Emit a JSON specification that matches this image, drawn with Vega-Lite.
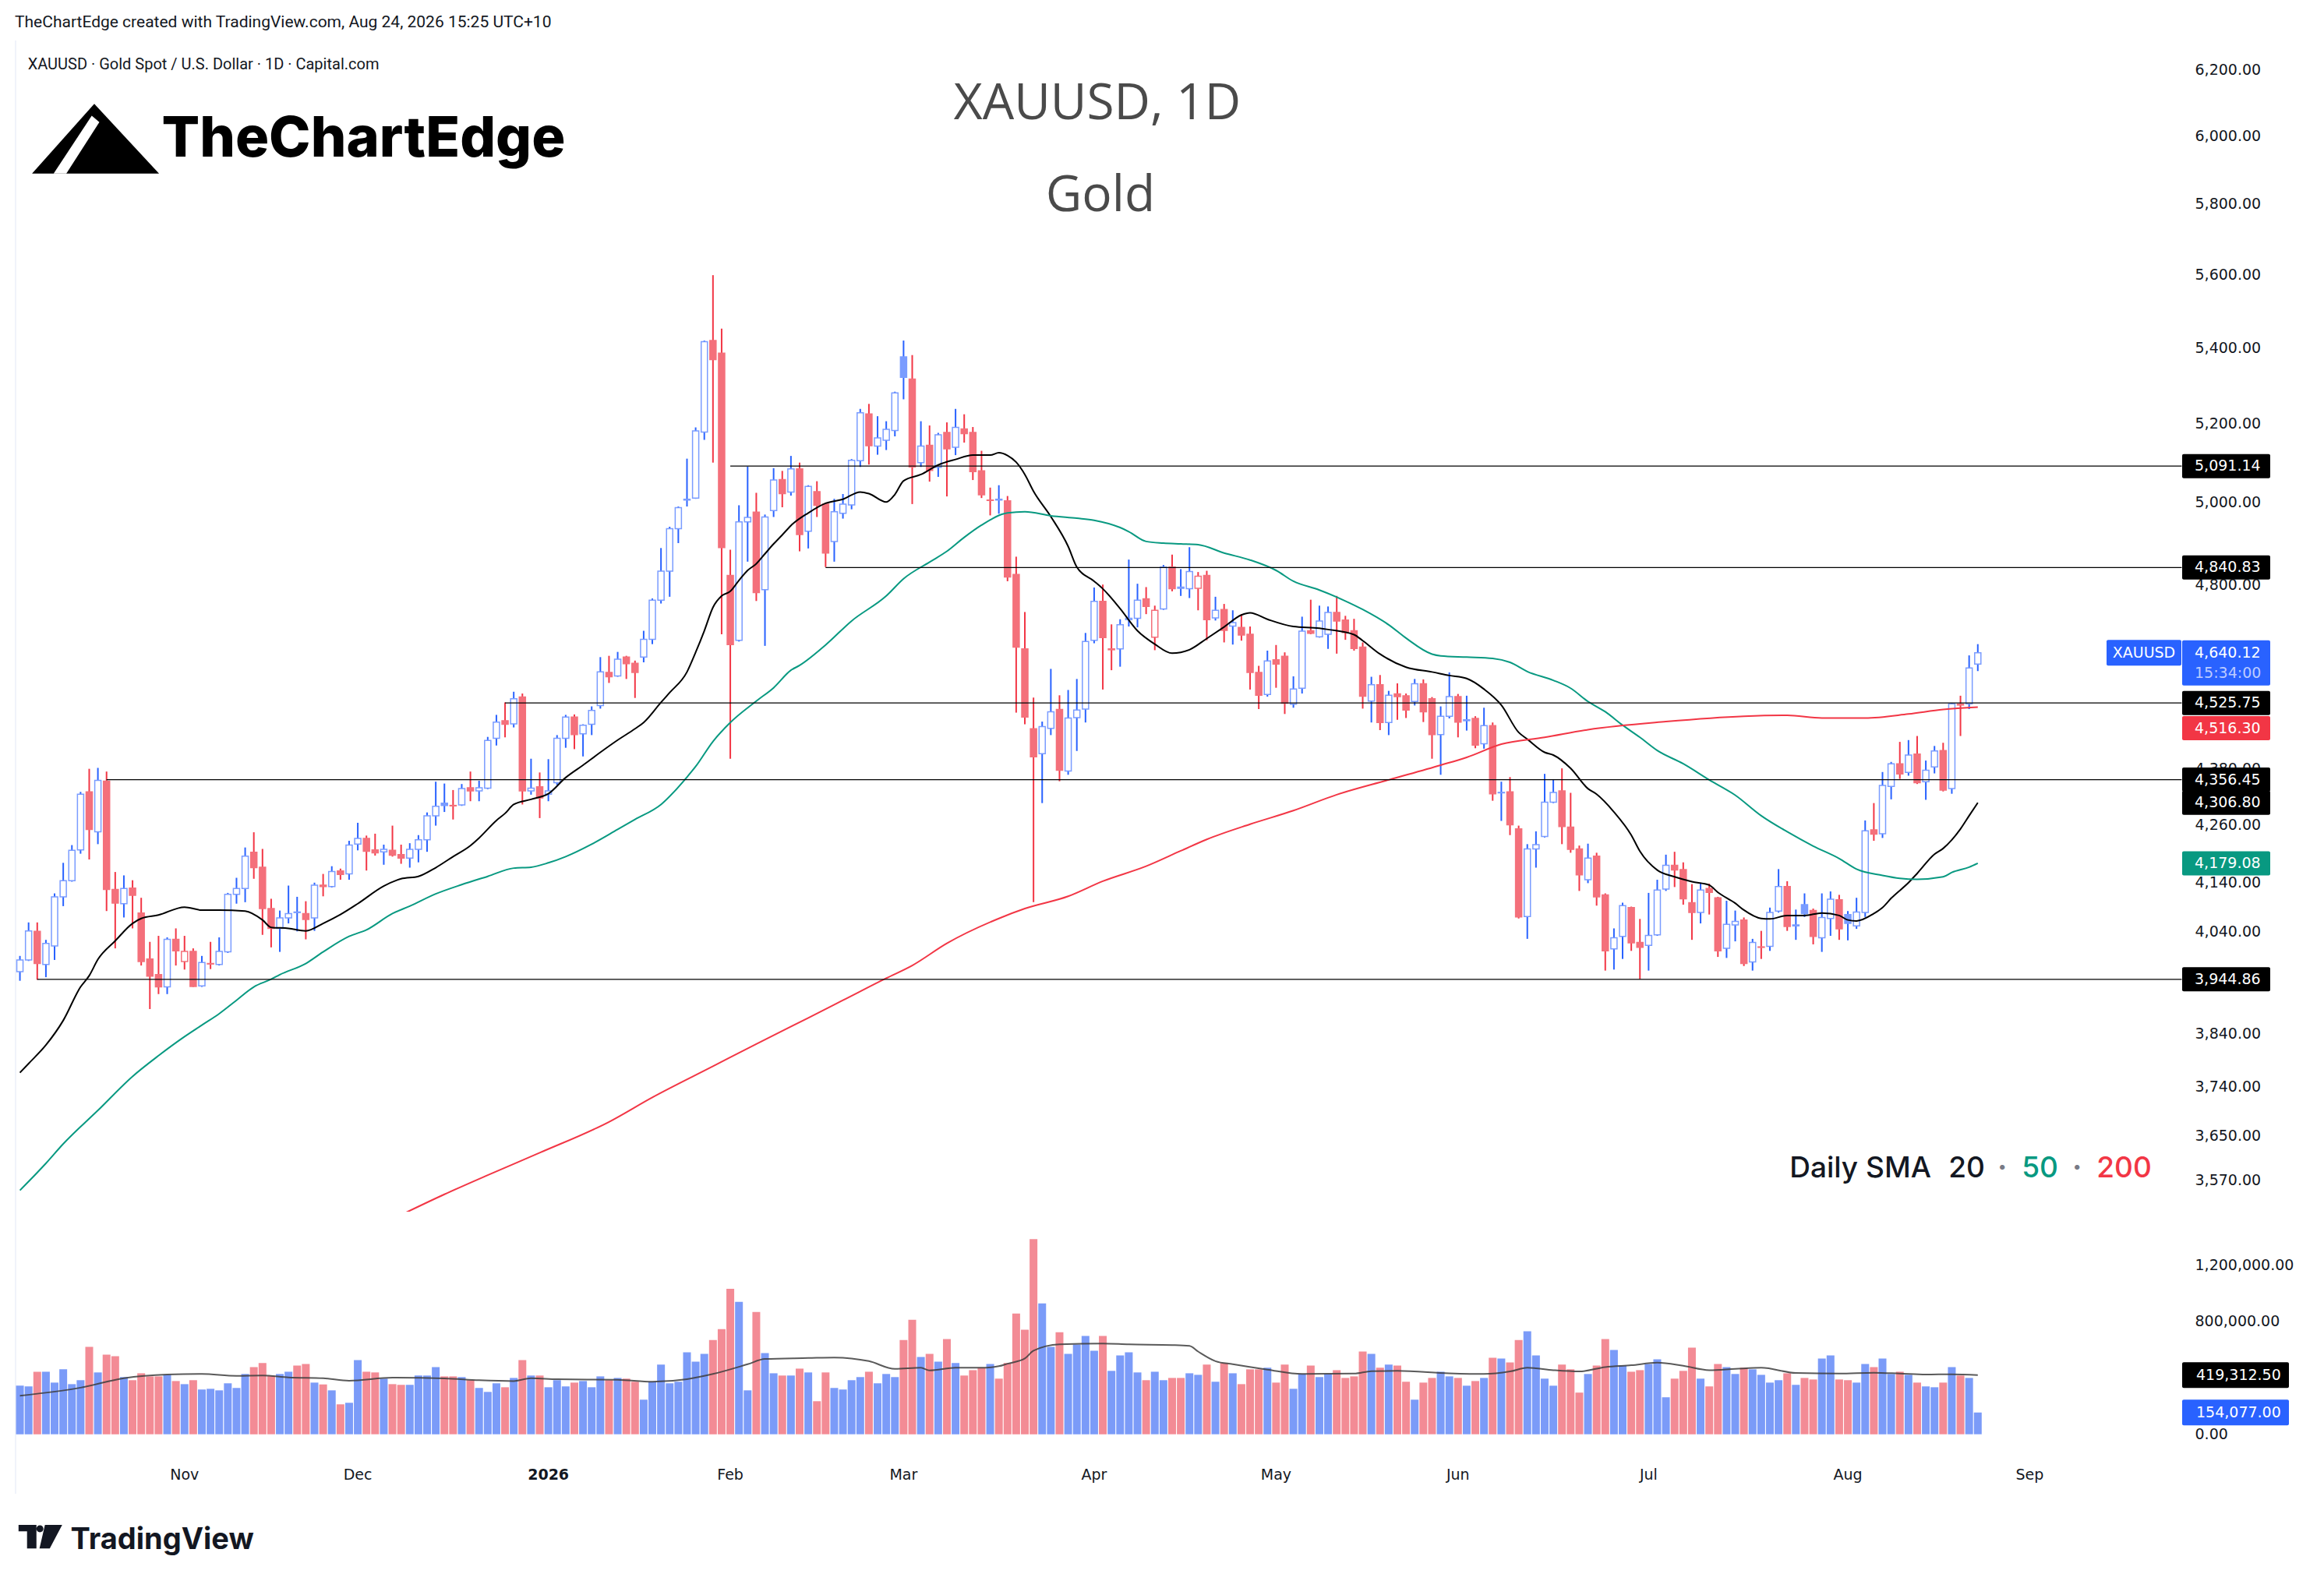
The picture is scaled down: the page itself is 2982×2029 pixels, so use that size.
{
  "$schema": "https://vega.github.io/schema/vega-lite/v6.json",
  "background": "#ffffff",
  "padding": {"left": 19, "top": 18, "right": 10, "bottom": 5},
  "bounds": "flush",
  "spacing": 0,
  "title": {
    "text": "TheChartEdge created with TradingView.com, Aug 24, 2026 15:25 UTC+10",
    "anchor": "start",
    "font": "Roboto",
    "fontSize": 21,
    "fontWeight": "normal",
    "color": "#131722",
    "offset": 12
  },
  "datasets": {
    "bars": [
      {"d":"2025-10-07","o":3960,"h":3991,"l":3942,"c":3983,"v":344000},
      {"d":"2025-10-08","o":3983,"h":4058,"l":3981,"c":4041,"v":339000},
      {"d":"2025-10-09","o":4040,"h":4058,"l":3944,"c":3976,"v":443000},
      {"d":"2025-10-10","o":3974,"h":4023,"l":3949,"c":4016,"v":443000},
      {"d":"2025-10-13","o":4011,"h":4117,"l":3983,"c":4110,"v":366000},
      {"d":"2025-10-14","o":4110,"h":4180,"l":4091,"c":4143,"v":460000},
      {"d":"2025-10-15","o":4143,"h":4217,"l":4141,"c":4206,"v":355000},
      {"d":"2025-10-16","o":4207,"h":4330,"l":4199,"c":4325,"v":383000},
      {"d":"2025-10-17","o":4330,"h":4380,"l":4187,"c":4250,"v":619000},
      {"d":"2025-10-20","o":4245,"h":4382,"l":4219,"c":4355,"v":438000},
      {"d":"2025-10-21","o":4353,"h":4374,"l":4081,"c":4125,"v":564000},
      {"d":"2025-10-22","o":4125,"h":4161,"l":4006,"c":4097,"v":553000},
      {"d":"2025-10-23","o":4096,"h":4154,"l":4068,"c":4127,"v":405000},
      {"d":"2025-10-24","o":4128,"h":4144,"l":4046,"c":4113,"v":383000},
      {"d":"2025-10-27","o":4077,"h":4108,"l":3972,"c":3980,"v":432000},
      {"d":"2025-10-28","o":3985,"h":4019,"l":3887,"c":3951,"v":410000},
      {"d":"2025-10-29","o":3954,"h":4031,"l":3916,"c":3930,"v":410000},
      {"d":"2025-10-30","o":3930,"h":4028,"l":3916,"c":4024,"v":421000},
      {"d":"2025-10-31","o":4024,"h":4046,"l":3972,"c":4001,"v":377000},
      {"d":"2025-11-03","o":3980,"h":4031,"l":3964,"c":4000,"v":355000},
      {"d":"2025-11-04","o":4000,"h":4006,"l":3930,"c":3931,"v":383000},
      {"d":"2025-11-05","o":3932,"h":3991,"l":3930,"c":3978,"v":317000},
      {"d":"2025-11-06","o":3975,"h":4019,"l":3965,"c":3976,"v":322000},
      {"d":"2025-11-07","o":3974,"h":4028,"l":3972,"c":4000,"v":311000},
      {"d":"2025-11-10","o":3999,"h":4118,"l":3997,"c":4115,"v":361000},
      {"d":"2025-11-11","o":4115,"h":4149,"l":4096,"c":4127,"v":328000},
      {"d":"2025-11-12","o":4127,"h":4212,"l":4099,"c":4194,"v":427000},
      {"d":"2025-11-13","o":4202,"h":4244,"l":4147,"c":4170,"v":476000},
      {"d":"2025-11-14","o":4171,"h":4209,"l":4033,"c":4086,"v":504000},
      {"d":"2025-11-17","o":4086,"h":4106,"l":4008,"c":4046,"v":414000},
      {"d":"2025-11-18","o":4046,"h":4082,"l":3999,"c":4067,"v":427000},
      {"d":"2025-11-19","o":4067,"h":4133,"l":4056,"c":4076,"v":443000},
      {"d":"2025-11-20","o":4079,"h":4110,"l":4040,"c":4078,"v":487000},
      {"d":"2025-11-21","o":4076,"h":4101,"l":4024,"c":4064,"v":498000},
      {"d":"2025-11-24","o":4067,"h":4139,"l":4041,"c":4134,"v":366000},
      {"d":"2025-11-25","o":4134,"h":4157,"l":4111,"c":4131,"v":353000},
      {"d":"2025-11-26","o":4131,"h":4173,"l":4129,"c":4162,"v":311000},
      {"d":"2025-11-27","o":4163,"h":4168,"l":4145,"c":4156,"v":212000},
      {"d":"2025-11-28","o":4157,"h":4226,"l":4145,"c":4217,"v":223000},
      {"d":"2025-12-01","o":4219,"h":4264,"l":4206,"c":4231,"v":526000},
      {"d":"2025-12-02","o":4231,"h":4237,"l":4164,"c":4204,"v":443000},
      {"d":"2025-12-03","o":4207,"h":4241,"l":4195,"c":4201,"v":438000},
      {"d":"2025-12-04","o":4203,"h":4218,"l":4176,"c":4208,"v":394000},
      {"d":"2025-12-05","o":4206,"h":4258,"l":4193,"c":4196,"v":355000},
      {"d":"2025-12-08","o":4197,"h":4218,"l":4178,"c":4190,"v":350000},
      {"d":"2025-12-09","o":4190,"h":4221,"l":4170,"c":4208,"v":350000},
      {"d":"2025-12-10","o":4208,"h":4238,"l":4181,"c":4228,"v":416000},
      {"d":"2025-12-11","o":4228,"h":4286,"l":4203,"c":4279,"v":416000},
      {"d":"2025-12-12","o":4279,"h":4352,"l":4258,"c":4299,"v":476000},
      {"d":"2025-12-15","o":4306,"h":4348,"l":4287,"c":4301,"v":410000},
      {"d":"2025-12-16","o":4301,"h":4334,"l":4271,"c":4300,"v":410000},
      {"d":"2025-12-17","o":4302,"h":4347,"l":4300,"c":4337,"v":405000},
      {"d":"2025-12-18","o":4339,"h":4374,"l":4310,"c":4332,"v":383000},
      {"d":"2025-12-19","o":4332,"h":4354,"l":4310,"c":4339,"v":328000},
      {"d":"2025-12-22","o":4338,"h":4450,"l":4336,"c":4442,"v":300000},
      {"d":"2025-12-23","o":4447,"h":4499,"l":4431,"c":4483,"v":361000},
      {"d":"2025-12-24","o":4486,"h":4527,"l":4449,"c":4478,"v":333000},
      {"d":"2025-12-26","o":4479,"h":4551,"l":4471,"c":4535,"v":399000},
      {"d":"2025-12-29","o":4539,"h":4547,"l":4303,"c":4332,"v":526000},
      {"d":"2025-12-30","o":4332,"h":4402,"l":4324,"c":4338,"v":416000},
      {"d":"2025-12-31","o":4341,"h":4372,"l":4274,"c":4317,"v":416000},
      {"d":"2026-01-02","o":4325,"h":4401,"l":4310,"c":4332,"v":333000},
      {"d":"2026-01-05","o":4350,"h":4454,"l":4345,"c":4447,"v":383000},
      {"d":"2026-01-06","o":4447,"h":4499,"l":4426,"c":4494,"v":339000},
      {"d":"2026-01-07","o":4494,"h":4500,"l":4423,"c":4455,"v":366000},
      {"d":"2026-01-08","o":4457,"h":4478,"l":4407,"c":4476,"v":377000},
      {"d":"2026-01-09","o":4478,"h":4518,"l":4454,"c":4509,"v":333000},
      {"d":"2026-01-12","o":4520,"h":4630,"l":4513,"c":4596,"v":410000},
      {"d":"2026-01-13","o":4595,"h":4633,"l":4571,"c":4585,"v":383000},
      {"d":"2026-01-14","o":4587,"h":4642,"l":4585,"c":4625,"v":399000},
      {"d":"2026-01-15","o":4630,"h":4633,"l":4580,"c":4615,"v":394000},
      {"d":"2026-01-16","o":4616,"h":4622,"l":4537,"c":4595,"v":372000},
      {"d":"2026-01-19","o":4630,"h":4691,"l":4618,"c":4671,"v":245000},
      {"d":"2026-01-20","o":4671,"h":4767,"l":4660,"c":4763,"v":372000},
      {"d":"2026-01-21","o":4763,"h":4888,"l":4755,"c":4832,"v":493000},
      {"d":"2026-01-22","o":4832,"h":4940,"l":4771,"c":4935,"v":361000},
      {"d":"2026-01-23","o":4935,"h":4990,"l":4900,"c":4987,"v":372000},
      {"d":"2026-01-26","o":5006,"h":5110,"l":4990,"c":5008,"v":581000},
      {"d":"2026-01-27","o":5011,"h":5190,"l":5009,"c":5181,"v":515000},
      {"d":"2026-01-28","o":5178,"h":5419,"l":5158,"c":5416,"v":570000},
      {"d":"2026-01-29","o":5419,"h":5598,"l":5100,"c":5368,"v":668000},
      {"d":"2026-01-30","o":5385,"h":5451,"l":4683,"c":4889,"v":745000},
      {"d":"2026-02-02","o":4822,"h":4884,"l":4402,"c":4659,"v":1031000},
      {"d":"2026-02-03","o":4669,"h":4993,"l":4666,"c":4952,"v":938000},
      {"d":"2026-02-04","o":4952,"h":5090,"l":4855,"c":4963,"v":311000},
      {"d":"2026-02-05","o":4976,"h":5024,"l":4761,"c":4781,"v":866000},
      {"d":"2026-02-06","o":4788,"h":4970,"l":4656,"c":4964,"v":575000},
      {"d":"2026-02-09","o":4980,"h":5086,"l":4964,"c":5056,"v":432000},
      {"d":"2026-02-10","o":5057,"h":5079,"l":4988,"c":5022,"v":416000},
      {"d":"2026-02-11","o":5026,"h":5117,"l":5017,"c":5084,"v":416000},
      {"d":"2026-02-12","o":5084,"h":5100,"l":4880,"c":4921,"v":465000},
      {"d":"2026-02-13","o":4929,"h":5043,"l":4887,"c":5040,"v":438000},
      {"d":"2026-02-16","o":5027,"h":5053,"l":4964,"c":4993,"v":234000},
      {"d":"2026-02-17","o":4996,"h":4999,"l":4842,"c":4876,"v":438000},
      {"d":"2026-02-18","o":4904,"h":5009,"l":4855,"c":4977,"v":328000},
      {"d":"2026-02-19","o":4973,"h":5021,"l":4960,"c":4996,"v":317000},
      {"d":"2026-02-20","o":4994,"h":5109,"l":4983,"c":5106,"v":383000},
      {"d":"2026-02-23","o":5105,"h":5238,"l":5089,"c":5228,"v":405000},
      {"d":"2026-02-24","o":5225,"h":5251,"l":5095,"c":5143,"v":443000},
      {"d":"2026-02-25","o":5142,"h":5219,"l":5120,"c":5163,"v":361000},
      {"d":"2026-02-26","o":5157,"h":5206,"l":5132,"c":5185,"v":427000},
      {"d":"2026-02-27","o":5182,"h":5283,"l":5167,"c":5280,"v":405000},
      {"d":"2026-03-02","o":5375,"h":5419,"l":5263,"c":5321,"v":668000},
      {"d":"2026-03-03","o":5316,"h":5380,"l":4996,"c":5089,"v":811000},
      {"d":"2026-03-04","o":5100,"h":5206,"l":5089,"c":5142,"v":548000},
      {"d":"2026-03-05","o":5144,"h":5195,"l":5052,"c":5080,"v":570000},
      {"d":"2026-03-06","o":5088,"h":5176,"l":5064,"c":5171,"v":515000},
      {"d":"2026-03-09","o":5177,"h":5203,"l":5015,"c":5135,"v":674000},
      {"d":"2026-03-10","o":5139,"h":5238,"l":5119,"c":5190,"v":504000},
      {"d":"2026-03-11","o":5186,"h":5224,"l":5151,"c":5174,"v":416000},
      {"d":"2026-03-12","o":5177,"h":5191,"l":5056,"c":5077,"v":454000},
      {"d":"2026-03-13","o":5079,"h":5130,"l":5011,"c":5019,"v":471000},
      {"d":"2026-03-16","o":5005,"h":5037,"l":4968,"c":5006,"v":498000},
      {"d":"2026-03-17","o":5008,"h":5043,"l":4972,"c":5006,"v":394000},
      {"d":"2026-03-18","o":5004,"h":5016,"l":4808,"c":4818,"v":504000},
      {"d":"2026-03-19","o":4824,"h":4867,"l":4504,"c":4653,"v":855000},
      {"d":"2026-03-20","o":4649,"h":4735,"l":4478,"c":4494,"v":740000},
      {"d":"2026-03-23","o":4468,"h":4538,"l":4099,"c":4406,"v":1383000},
      {"d":"2026-03-24","o":4413,"h":4484,"l":4306,"c":4473,"v":927000},
      {"d":"2026-03-25","o":4469,"h":4603,"l":4454,"c":4506,"v":619000},
      {"d":"2026-03-26","o":4511,"h":4543,"l":4353,"c":4377,"v":723000},
      {"d":"2026-03-27","o":4375,"h":4555,"l":4367,"c":4492,"v":570000},
      {"d":"2026-03-30","o":4493,"h":4580,"l":4419,"c":4510,"v":636000},
      {"d":"2026-03-31","o":4512,"h":4686,"l":4482,"c":4666,"v":696000},
      {"d":"2026-04-01","o":4669,"h":4793,"l":4662,"c":4760,"v":592000},
      {"d":"2026-04-02","o":4760,"h":4800,"l":4556,"c":4675,"v":696000},
      {"d":"2026-04-06","o":4647,"h":4706,"l":4600,"c":4649,"v":449000},
      {"d":"2026-04-07","o":4649,"h":4718,"l":4608,"c":4705,"v":559000},
      {"d":"2026-04-08","o":4717,"h":4860,"l":4701,"c":4720,"v":581000},
      {"d":"2026-04-09","o":4720,"h":4802,"l":4699,"c":4763,"v":438000},
      {"d":"2026-04-10","o":4766,"h":4794,"l":4730,"c":4748,"v":383000},
      {"d":"2026-04-13","o":4676,"h":4750,"l":4646,"c":4739,"v":443000},
      {"d":"2026-04-14","o":4742,"h":4847,"l":4740,"c":4842,"v":383000},
      {"d":"2026-04-15","o":4842,"h":4872,"l":4784,"c":4790,"v":399000},
      {"d":"2026-04-16","o":4794,"h":4837,"l":4773,"c":4791,"v":399000},
      {"d":"2026-04-17","o":4790,"h":4890,"l":4768,"c":4831,"v":432000},
      {"d":"2026-04-20","o":4791,"h":4830,"l":4739,"c":4820,"v":421000},
      {"d":"2026-04-21","o":4822,"h":4833,"l":4669,"c":4717,"v":493000},
      {"d":"2026-04-22","o":4721,"h":4771,"l":4715,"c":4739,"v":372000},
      {"d":"2026-04-23","o":4741,"h":4754,"l":4664,"c":4692,"v":504000},
      {"d":"2026-04-24","o":4702,"h":4739,"l":4659,"c":4710,"v":432000},
      {"d":"2026-04-27","o":4699,"h":4730,"l":4668,"c":4681,"v":355000},
      {"d":"2026-04-28","o":4683,"h":4701,"l":4556,"c":4595,"v":460000},
      {"d":"2026-04-29","o":4595,"h":4610,"l":4512,"c":4543,"v":460000},
      {"d":"2026-04-30","o":4545,"h":4645,"l":4540,"c":4621,"v":471000},
      {"d":"2026-05-01","o":4624,"h":4658,"l":4560,"c":4614,"v":366000},
      {"d":"2026-05-04","o":4632,"h":4641,"l":4501,"c":4525,"v":493000},
      {"d":"2026-05-05","o":4523,"h":4586,"l":4515,"c":4557,"v":322000},
      {"d":"2026-05-06","o":4559,"h":4724,"l":4547,"c":4690,"v":427000},
      {"d":"2026-05-07","o":4691,"h":4764,"l":4683,"c":4685,"v":487000},
      {"d":"2026-05-08","o":4677,"h":4750,"l":4675,"c":4714,"v":405000},
      {"d":"2026-05-11","o":4683,"h":4748,"l":4649,"c":4734,"v":427000},
      {"d":"2026-05-12","o":4734,"h":4773,"l":4638,"c":4714,"v":454000},
      {"d":"2026-05-13","o":4716,"h":4726,"l":4670,"c":4687,"v":399000},
      {"d":"2026-05-14","o":4691,"h":4719,"l":4645,"c":4650,"v":410000},
      {"d":"2026-05-15","o":4653,"h":4664,"l":4513,"c":4541,"v":586000},
      {"d":"2026-05-18","o":4530,"h":4585,"l":4482,"c":4567,"v":570000},
      {"d":"2026-05-19","o":4567,"h":4589,"l":4465,"c":4482,"v":471000},
      {"d":"2026-05-20","o":4482,"h":4553,"l":4454,"c":4543,"v":493000},
      {"d":"2026-05-21","o":4546,"h":4570,"l":4488,"c":4540,"v":487000},
      {"d":"2026-05-22","o":4542,"h":4547,"l":4492,"c":4510,"v":372000},
      {"d":"2026-05-25","o":4529,"h":4580,"l":4520,"c":4569,"v":245000},
      {"d":"2026-05-26","o":4569,"h":4579,"l":4483,"c":4506,"v":366000},
      {"d":"2026-05-27","o":4535,"h":4539,"l":4402,"c":4455,"v":399000},
      {"d":"2026-05-28","o":4455,"h":4518,"l":4367,"c":4496,"v":443000},
      {"d":"2026-05-29","o":4496,"h":4595,"l":4491,"c":4540,"v":410000},
      {"d":"2026-06-01","o":4540,"h":4546,"l":4449,"c":4483,"v":399000},
      {"d":"2026-06-02","o":4486,"h":4542,"l":4464,"c":4488,"v":344000},
      {"d":"2026-06-03","o":4491,"h":4496,"l":4425,"c":4432,"v":377000},
      {"d":"2026-06-04","o":4435,"h":4515,"l":4424,"c":4475,"v":399000},
      {"d":"2026-06-05","o":4475,"h":4482,"l":4311,"c":4326,"v":542000},
      {"d":"2026-06-08","o":4328,"h":4352,"l":4268,"c":4329,"v":537000},
      {"d":"2026-06-09","o":4330,"h":4362,"l":4238,"c":4260,"v":509000},
      {"d":"2026-06-10","o":4251,"h":4258,"l":4066,"c":4069,"v":668000},
      {"d":"2026-06-11","o":4070,"h":4219,"l":4025,"c":4209,"v":729000},
      {"d":"2026-06-12","o":4209,"h":4246,"l":4170,"c":4218,"v":559000},
      {"d":"2026-06-15","o":4235,"h":4369,"l":4233,"c":4308,"v":394000},
      {"d":"2026-06-16","o":4308,"h":4356,"l":4306,"c":4329,"v":344000},
      {"d":"2026-06-17","o":4332,"h":4381,"l":4219,"c":4256,"v":493000},
      {"d":"2026-06-18","o":4255,"h":4328,"l":4201,"c":4208,"v":460000},
      {"d":"2026-06-19","o":4209,"h":4216,"l":4122,"c":4155,"v":295000},
      {"d":"2026-06-22","o":4145,"h":4220,"l":4138,"c":4190,"v":427000},
      {"d":"2026-06-23","o":4194,"h":4201,"l":4092,"c":4110,"v":487000},
      {"d":"2026-06-24","o":4114,"h":4117,"l":3962,"c":4001,"v":674000},
      {"d":"2026-06-25","o":4005,"h":4046,"l":3964,"c":4027,"v":597000},
      {"d":"2026-06-26","o":4030,"h":4098,"l":3985,"c":4092,"v":487000},
      {"d":"2026-06-29","o":4088,"h":4090,"l":4001,"c":4017,"v":443000},
      {"d":"2026-06-30","o":4018,"h":4065,"l":3945,"c":4008,"v":454000},
      {"d":"2026-07-01","o":4012,"h":4118,"l":3962,"c":4032,"v":498000},
      {"d":"2026-07-02","o":4033,"h":4145,"l":4031,"c":4124,"v":531000},
      {"d":"2026-07-03","o":4126,"h":4197,"l":4122,"c":4175,"v":262000},
      {"d":"2026-07-06","o":4175,"h":4203,"l":4130,"c":4165,"v":394000},
      {"d":"2026-07-07","o":4166,"h":4181,"l":4094,"c":4106,"v":449000},
      {"d":"2026-07-08","o":4098,"h":4136,"l":4023,"c":4078,"v":614000},
      {"d":"2026-07-09","o":4078,"h":4139,"l":4056,"c":4124,"v":394000},
      {"d":"2026-07-10","o":4127,"h":4137,"l":4074,"c":4119,"v":339000},
      {"d":"2026-07-13","o":4108,"h":4110,"l":3989,"c":4001,"v":498000},
      {"d":"2026-07-14","o":4006,"h":4102,"l":3987,"c":4054,"v":476000},
      {"d":"2026-07-15","o":4053,"h":4082,"l":4020,"c":4060,"v":427000},
      {"d":"2026-07-16","o":4063,"h":4068,"l":3971,"c":3976,"v":471000},
      {"d":"2026-07-17","o":3979,"h":4025,"l":3962,"c":4018,"v":460000},
      {"d":"2026-07-20","o":4008,"h":4041,"l":3985,"c":4009,"v":421000},
      {"d":"2026-07-21","o":4010,"h":4088,"l":4001,"c":4078,"v":366000},
      {"d":"2026-07-22","o":4081,"h":4167,"l":4078,"c":4131,"v":383000},
      {"d":"2026-07-23","o":4131,"h":4142,"l":4041,"c":4050,"v":432000},
      {"d":"2026-07-24","o":4051,"h":4084,"l":4023,"c":4053,"v":350000},
      {"d":"2026-07-27","o":4094,"h":4117,"l":4069,"c":4076,"v":399000},
      {"d":"2026-07-28","o":4082,"h":4086,"l":4014,"c":4030,"v":388000},
      {"d":"2026-07-29","o":4027,"h":4117,"l":3999,"c":4068,"v":537000},
      {"d":"2026-07-30","o":4066,"h":4121,"l":4031,"c":4105,"v":559000},
      {"d":"2026-07-31","o":4104,"h":4114,"l":4023,"c":4045,"v":388000},
      {"d":"2026-08-03","o":4074,"h":4081,"l":4022,"c":4056,"v":383000},
      {"d":"2026-08-04","o":4051,"h":4108,"l":4045,"c":4079,"v":366000},
      {"d":"2026-08-05","o":4078,"h":4269,"l":4069,"c":4247,"v":498000},
      {"d":"2026-08-06","o":4249,"h":4306,"l":4226,"c":4240,"v":476000},
      {"d":"2026-08-07","o":4241,"h":4373,"l":4232,"c":4344,"v":537000},
      {"d":"2026-08-10","o":4342,"h":4395,"l":4314,"c":4391,"v":427000},
      {"d":"2026-08-11","o":4391,"h":4439,"l":4358,"c":4369,"v":443000},
      {"d":"2026-08-12","o":4372,"h":4443,"l":4365,"c":4410,"v":421000},
      {"d":"2026-08-13","o":4412,"h":4452,"l":4347,"c":4350,"v":366000},
      {"d":"2026-08-14","o":4352,"h":4398,"l":4313,"c":4377,"v":339000},
      {"d":"2026-08-17","o":4384,"h":4430,"l":4370,"c":4419,"v":333000},
      {"d":"2026-08-18","o":4420,"h":4437,"l":4331,"c":4334,"v":366000},
      {"d":"2026-08-19","o":4337,"h":4526,"l":4326,"c":4524,"v":476000},
      {"d":"2026-08-20","o":4523,"h":4542,"l":4452,"c":4521,"v":416000},
      {"d":"2026-08-21","o":4524,"h":4634,"l":4512,"c":4605,"v":399000},
      {"d":"2026-08-24","o":4614,"h":4660,"l":4598,"c":4640.12,"v":154077}
    ],
    "sma": [
      {"d":"2025-10-07","n":"20","val":3766},{"d":"2025-10-08","n":"20","val":3783},{"d":"2025-10-10","n":"20","val":3818},{"d":"2025-10-14","n":"20","val":3865},
      {"d":"2025-10-16","n":"20","val":3930},{"d":"2025-10-17","n":"20","val":3952},{"d":"2025-10-20","n":"20","val":3984},{"d":"2025-10-22","n":"20","val":4021},
      {"d":"2025-10-24","n":"20","val":4056},{"d":"2025-10-27","n":"20","val":4066},{"d":"2025-10-29","n":"20","val":4073},{"d":"2025-11-03","n":"20","val":4089},
      {"d":"2025-11-05","n":"20","val":4083},{"d":"2025-11-07","n":"20","val":4083},{"d":"2025-11-12","n":"20","val":4081},{"d":"2025-11-14","n":"20","val":4063},
      {"d":"2025-11-17","n":"20","val":4048},{"d":"2025-11-19","n":"20","val":4046},{"d":"2025-11-21","n":"20","val":4041},{"d":"2025-11-25","n":"20","val":4056},
      {"d":"2025-11-27","n":"20","val":4074},{"d":"2025-12-01","n":"20","val":4096},{"d":"2025-12-04","n":"20","val":4132},{"d":"2025-12-08","n":"20","val":4147},
      {"d":"2025-12-10","n":"20","val":4152},{"d":"2025-12-12","n":"20","val":4170},{"d":"2025-12-16","n":"20","val":4193},{"d":"2025-12-18","n":"20","val":4216},
      {"d":"2025-12-19","n":"20","val":4232},{"d":"2025-12-23","n":"20","val":4269},{"d":"2025-12-24","n":"20","val":4284},{"d":"2025-12-26","n":"20","val":4303},
      {"d":"2025-12-30","n":"20","val":4314},{"d":"2026-01-02","n":"20","val":4326},{"d":"2026-01-06","n":"20","val":4361},{"d":"2026-01-08","n":"20","val":4388},
      {"d":"2026-01-12","n":"20","val":4416},{"d":"2026-01-14","n":"20","val":4443},{"d":"2026-01-16","n":"20","val":4468},{"d":"2026-01-19","n":"20","val":4482},
      {"d":"2026-01-21","n":"20","val":4527},{"d":"2026-01-22","n":"20","val":4549},{"d":"2026-01-26","n":"20","val":4596},{"d":"2026-01-27","n":"20","val":4641},
      {"d":"2026-01-28","n":"20","val":4691},{"d":"2026-01-29","n":"20","val":4746},{"d":"2026-01-30","n":"20","val":4773},{"d":"2026-02-02","n":"20","val":4784},
      {"d":"2026-02-03","n":"20","val":4810},{"d":"2026-02-04","n":"20","val":4834},{"d":"2026-02-05","n":"20","val":4850},{"d":"2026-02-06","n":"20","val":4874},
      {"d":"2026-02-09","n":"20","val":4898},{"d":"2026-02-10","n":"20","val":4920},{"d":"2026-02-11","n":"20","val":4943},{"d":"2026-02-13","n":"20","val":4974},
      {"d":"2026-02-17","n":"20","val":4998},{"d":"2026-02-19","n":"20","val":5008},{"d":"2026-02-23","n":"20","val":5026},{"d":"2026-02-24","n":"20","val":5022},
      {"d":"2026-02-26","n":"20","val":5001},{"d":"2026-02-27","n":"20","val":5020},{"d":"2026-03-02","n":"20","val":5054},{"d":"2026-03-04","n":"20","val":5070},
      {"d":"2026-03-06","n":"20","val":5094},{"d":"2026-03-10","n":"20","val":5108},{"d":"2026-03-12","n":"20","val":5119},{"d":"2026-03-16","n":"20","val":5119},
      {"d":"2026-03-17","n":"20","val":5125},{"d":"2026-03-18","n":"20","val":5118},{"d":"2026-03-19","n":"20","val":5101},{"d":"2026-03-20","n":"20","val":5070},
      {"d":"2026-03-23","n":"20","val":5028},{"d":"2026-03-25","n":"20","val":4965},{"d":"2026-03-27","n":"20","val":4892},{"d":"2026-03-30","n":"20","val":4842},
      {"d":"2026-04-01","n":"20","val":4808},{"d":"2026-04-02","n":"20","val":4790},{"d":"2026-04-07","n":"20","val":4743},{"d":"2026-04-09","n":"20","val":4691},
      {"d":"2026-04-13","n":"20","val":4660},{"d":"2026-04-15","n":"20","val":4639},{"d":"2026-04-16","n":"20","val":4641},{"d":"2026-04-17","n":"20","val":4647},
      {"d":"2026-04-21","n":"20","val":4673},{"d":"2026-04-23","n":"20","val":4700},{"d":"2026-04-27","n":"20","val":4728},{"d":"2026-04-28","n":"20","val":4733},
      {"d":"2026-04-30","n":"20","val":4718},{"d":"2026-05-05","n":"20","val":4701},{"d":"2026-05-08","n":"20","val":4697},{"d":"2026-05-11","n":"20","val":4694},
      {"d":"2026-05-14","n":"20","val":4682},{"d":"2026-05-15","n":"20","val":4668},{"d":"2026-05-19","n":"20","val":4637},{"d":"2026-05-22","n":"20","val":4607},
      {"d":"2026-05-27","n":"20","val":4596},{"d":"2026-05-29","n":"20","val":4588},{"d":"2026-06-02","n":"20","val":4581},{"d":"2026-06-04","n":"20","val":4557},
      {"d":"2026-06-08","n":"20","val":4521},{"d":"2026-06-10","n":"20","val":4460},{"d":"2026-06-11","n":"20","val":4445},{"d":"2026-06-15","n":"20","val":4416},
      {"d":"2026-06-16","n":"20","val":4410},{"d":"2026-06-18","n":"20","val":4381},{"d":"2026-06-22","n":"20","val":4337},{"d":"2026-06-23","n":"20","val":4325},
      {"d":"2026-06-25","n":"20","val":4287},{"d":"2026-06-29","n":"20","val":4238},{"d":"2026-06-30","n":"20","val":4204},{"d":"2026-07-02","n":"20","val":4165},
      {"d":"2026-07-06","n":"20","val":4151},{"d":"2026-07-08","n":"20","val":4141},{"d":"2026-07-10","n":"20","val":4134},{"d":"2026-07-13","n":"20","val":4119},
      {"d":"2026-07-15","n":"20","val":4097},{"d":"2026-07-16","n":"20","val":4083},{"d":"2026-07-20","n":"20","val":4066},{"d":"2026-07-21","n":"20","val":4065},
      {"d":"2026-07-23","n":"20","val":4072},{"d":"2026-07-27","n":"20","val":4072},{"d":"2026-07-29","n":"20","val":4077},{"d":"2026-07-31","n":"20","val":4072},
      {"d":"2026-08-03","n":"20","val":4063},{"d":"2026-08-04","n":"20","val":4061},{"d":"2026-08-06","n":"20","val":4076},{"d":"2026-08-07","n":"20","val":4088},
      {"d":"2026-08-10","n":"20","val":4107},{"d":"2026-08-12","n":"20","val":4139},{"d":"2026-08-13","n":"20","val":4158},{"d":"2026-08-17","n":"20","val":4198},
      {"d":"2026-08-18","n":"20","val":4210},{"d":"2026-08-19","n":"20","val":4228},{"d":"2026-08-20","n":"20","val":4251},{"d":"2026-08-21","n":"20","val":4279},
      {"d":"2026-08-24","n":"20","val":4306.8},
      {"d":"2025-10-07","n":"50","val":3552},{"d":"2025-10-10","n":"50","val":3600},{"d":"2025-10-14","n":"50","val":3635},{"d":"2025-10-20","n":"50","val":3696},
      {"d":"2025-10-24","n":"50","val":3759},{"d":"2025-10-29","n":"50","val":3798},{"d":"2025-11-03","n":"50","val":3834},{"d":"2025-11-05","n":"50","val":3856},
      {"d":"2025-11-07","n":"50","val":3878},{"d":"2025-11-11","n":"50","val":3904},{"d":"2025-11-13","n":"50","val":3930},{"d":"2025-11-17","n":"50","val":3945},
      {"d":"2025-11-18","n":"50","val":3954},{"d":"2025-11-21","n":"50","val":3976},{"d":"2025-11-25","n":"50","val":3999},{"d":"2025-11-28","n":"50","val":4030},
      {"d":"2025-12-02","n":"50","val":4043},{"d":"2025-12-05","n":"50","val":4076},{"d":"2025-12-09","n":"50","val":4091},{"d":"2025-12-12","n":"50","val":4116},
      {"d":"2025-12-17","n":"50","val":4135},{"d":"2025-12-22","n":"50","val":4152},{"d":"2025-12-26","n":"50","val":4169},{"d":"2025-12-30","n":"50","val":4171},
      {"d":"2026-01-02","n":"50","val":4180},{"d":"2026-01-06","n":"50","val":4193},{"d":"2026-01-09","n":"50","val":4219},{"d":"2026-01-14","n":"50","val":4250},
      {"d":"2026-01-16","n":"50","val":4271},{"d":"2026-01-21","n":"50","val":4303},{"d":"2026-01-26","n":"50","val":4362},{"d":"2026-01-27","n":"50","val":4385},
      {"d":"2026-01-29","n":"50","val":4440},{"d":"2026-02-02","n":"50","val":4482},{"d":"2026-02-05","n":"50","val":4530},{"d":"2026-02-09","n":"50","val":4560},
      {"d":"2026-02-11","n":"50","val":4600},{"d":"2026-02-12","n":"50","val":4611},{"d":"2026-02-17","n":"50","val":4658},{"d":"2026-02-20","n":"50","val":4714},
      {"d":"2026-02-26","n":"50","val":4773},{"d":"2026-03-02","n":"50","val":4814},{"d":"2026-03-05","n":"50","val":4854},{"d":"2026-03-09","n":"50","val":4880},
      {"d":"2026-03-11","n":"50","val":4914},{"d":"2026-03-13","n":"50","val":4944},{"d":"2026-03-18","n":"50","val":4974},{"d":"2026-03-20","n":"50","val":4977},
      {"d":"2026-03-25","n":"50","val":4967},{"d":"2026-03-30","n":"50","val":4961},{"d":"2026-04-01","n":"50","val":4956},{"d":"2026-04-07","n":"50","val":4938},
      {"d":"2026-04-08","n":"50","val":4928},{"d":"2026-04-10","n":"50","val":4904},{"d":"2026-04-14","n":"50","val":4900},{"d":"2026-04-16","n":"50","val":4898},
      {"d":"2026-04-20","n":"50","val":4896},{"d":"2026-04-23","n":"50","val":4876},{"d":"2026-04-28","n":"50","val":4859},{"d":"2026-05-01","n":"50","val":4834},
      {"d":"2026-05-05","n":"50","val":4808},{"d":"2026-05-08","n":"50","val":4787},{"d":"2026-05-13","n":"50","val":4761},{"d":"2026-05-15","n":"50","val":4741},
      {"d":"2026-05-20","n":"50","val":4705},{"d":"2026-05-22","n":"50","val":4674},{"d":"2026-05-27","n":"50","val":4637},{"d":"2026-05-28","n":"50","val":4633},
      {"d":"2026-06-02","n":"50","val":4630},{"d":"2026-06-05","n":"50","val":4627},{"d":"2026-06-09","n":"50","val":4618},{"d":"2026-06-11","n":"50","val":4597},
      {"d":"2026-06-16","n":"50","val":4577},{"d":"2026-06-18","n":"50","val":4559},{"d":"2026-06-22","n":"50","val":4529},{"d":"2026-06-24","n":"50","val":4506},
      {"d":"2026-06-26","n":"50","val":4476},{"d":"2026-06-30","n":"50","val":4449},{"d":"2026-07-02","n":"50","val":4420},{"d":"2026-07-07","n":"50","val":4391},
      {"d":"2026-07-10","n":"50","val":4356},{"d":"2026-07-15","n":"50","val":4323},{"d":"2026-07-20","n":"50","val":4279},{"d":"2026-07-23","n":"50","val":4245},
      {"d":"2026-07-28","n":"50","val":4215},{"d":"2026-07-31","n":"50","val":4189},{"d":"2026-08-04","n":"50","val":4167},{"d":"2026-08-07","n":"50","val":4154},
      {"d":"2026-08-11","n":"50","val":4148},{"d":"2026-08-13","n":"50","val":4146},{"d":"2026-08-18","n":"50","val":4151},{"d":"2026-08-19","n":"50","val":4160},
      {"d":"2026-08-21","n":"50","val":4171},{"d":"2026-08-24","n":"50","val":4179.08},
      {"d":"2025-12-08","n":"200","val":3509},{"d":"2025-12-15","n":"200","val":3545},{"d":"2025-12-22","n":"200","val":3579},{"d":"2025-12-31","n":"200","val":3619},
      {"d":"2026-01-13","n":"200","val":3675},{"d":"2026-01-20","n":"200","val":3720},{"d":"2026-01-29","n":"200","val":3778},{"d":"2026-02-05","n":"200","val":3820},
      {"d":"2026-02-13","n":"200","val":3870},{"d":"2026-02-19","n":"200","val":3904},{"d":"2026-02-26","n":"200","val":3947},{"d":"2026-03-03","n":"200","val":3972},
      {"d":"2026-03-09","n":"200","val":4016},{"d":"2026-03-17","n":"200","val":4066},{"d":"2026-03-20","n":"200","val":4086},{"d":"2026-03-27","n":"200","val":4111},
      {"d":"2026-04-02","n":"200","val":4142},{"d":"2026-04-10","n":"200","val":4173},{"d":"2026-04-16","n":"200","val":4205},{"d":"2026-04-21","n":"200","val":4229},
      {"d":"2026-04-28","n":"200","val":4261},{"d":"2026-05-05","n":"200","val":4290},{"d":"2026-05-12","n":"200","val":4324},{"d":"2026-05-20","n":"200","val":4356},
      {"d":"2026-05-28","n":"200","val":4388},{"d":"2026-06-02","n":"200","val":4405},{"d":"2026-06-08","n":"200","val":4434},{"d":"2026-06-15","n":"200","val":4449},
      {"d":"2026-06-22","n":"200","val":4466},{"d":"2026-07-03","n":"200","val":4484},{"d":"2026-07-16","n":"200","val":4496},{"d":"2026-07-23","n":"200","val":4498},
      {"d":"2026-07-29","n":"200","val":4492},{"d":"2026-08-05","n":"200","val":4492},{"d":"2026-08-12","n":"200","val":4501},{"d":"2026-08-18","n":"200","val":4511},
      {"d":"2026-08-24","n":"200","val":4516.3}
    ],
    "vma": [
      {"d":"2025-10-07","val":273000},{"d":"2025-10-16","val":330000},{"d":"2025-10-23","val":397000},{"d":"2025-10-30","val":423000},
      {"d":"2025-11-05","val":427000},{"d":"2025-11-11","val":414000},{"d":"2025-11-14","val":416000},{"d":"2025-11-19","val":403000},
      {"d":"2025-11-25","val":397000},{"d":"2025-11-28","val":379000},{"d":"2025-12-05","val":401000},{"d":"2025-12-15","val":396000},
      {"d":"2025-12-19","val":383000},{"d":"2025-12-26","val":377000},{"d":"2025-12-30","val":397000},{"d":"2026-01-05","val":390000},
      {"d":"2026-01-14","val":386000},{"d":"2026-01-20","val":372000},{"d":"2026-01-26","val":390000},{"d":"2026-01-29","val":427000},
      {"d":"2026-02-04","val":496000},{"d":"2026-02-06","val":533000},{"d":"2026-02-13","val":540000},{"d":"2026-02-18","val":544000},
      {"d":"2026-02-24","val":518000},{"d":"2026-02-27","val":463000},{"d":"2026-03-04","val":471000},{"d":"2026-03-05","val":452000},
      {"d":"2026-03-10","val":471000},{"d":"2026-03-13","val":471000},{"d":"2026-03-17","val":482000},{"d":"2026-03-18","val":500000},
      {"d":"2026-03-20","val":537000},{"d":"2026-03-23","val":592000},{"d":"2026-03-26","val":637000},{"d":"2026-04-02","val":643000},
      {"d":"2026-04-08","val":637000},{"d":"2026-04-15","val":632000},{"d":"2026-04-17","val":626000},{"d":"2026-04-20","val":586000},
      {"d":"2026-04-22","val":518000},{"d":"2026-04-24","val":496000},{"d":"2026-04-30","val":458000},{"d":"2026-05-06","val":427000},
      {"d":"2026-05-14","val":430000},{"d":"2026-05-18","val":447000},{"d":"2026-05-21","val":449000},{"d":"2026-05-29","val":432000},
      {"d":"2026-06-04","val":427000},{"d":"2026-06-09","val":445000},{"d":"2026-06-11","val":471000},{"d":"2026-06-16","val":454000},
      {"d":"2026-06-19","val":445000},{"d":"2026-06-24","val":476000},{"d":"2026-06-29","val":489000},{"d":"2026-07-02","val":507000},
      {"d":"2026-07-07","val":485000},{"d":"2026-07-10","val":454000},{"d":"2026-07-15","val":463000},{"d":"2026-07-20","val":471000},
      {"d":"2026-07-24","val":434000},{"d":"2026-07-31","val":430000},{"d":"2026-08-06","val":436000},{"d":"2026-08-11","val":430000},
      {"d":"2026-08-14","val":423000},{"d":"2026-08-19","val":425000},{"d":"2026-08-24","val":419312.5}
    ],
    "levels": [
      {"d":"2026-02-02","price":5091.14},
      {"d":"2026-02-17","price":4840.83},
      {"d":"2025-12-24","price":4525.75},
      {"d":"2025-10-21","price":4356.45},
      {"d":"2025-10-09","price":3944.86}
    ],
    "tags": [
      {"price":5091.14,"kind":"level"},
      {"price":4840.83,"kind":"level"},
      {"price":4525.75,"kind":"level"},
      {"price":4356.45,"kind":"level"},
      {"price":3944.86,"kind":"level"},
      {"price":4306.80,"kind":"sma20"},
      {"price":4179.08,"kind":"sma50"},
      {"price":4516.30,"kind":"sma200"},
      {"price":4640.12,"kind":"last","sym":"XAUUSD","timer":"15:34:00"}
    ],
    "vtags": [
      {"v":419312.5,"kind":"sma"},
      {"v":154077,"kind":"last"}
    ]
  },
  "resolve": {"scale": {"x": "independent", "y": "independent", "color": "independent", "fill": "independent"}},
  "vconcat": [
    {
      "width": 2779,
      "height": 1503,
      "view": {"stroke": null},
      "encoding": {
        "x": {
          "field": "d",
          "type": "ordinal",
          "scale": {
            "type": "band",
            "paddingInner": 0,
            "paddingOuter": 0,
            "domain": ["2025-10-07","2025-10-08","2025-10-09","2025-10-10","2025-10-13","2025-10-14","2025-10-15","2025-10-16","2025-10-17","2025-10-20","2025-10-21","2025-10-22","2025-10-23","2025-10-24","2025-10-27","2025-10-28","2025-10-29","2025-10-30","2025-10-31","2025-11-03","2025-11-04","2025-11-05","2025-11-06","2025-11-07","2025-11-10","2025-11-11","2025-11-12","2025-11-13","2025-11-14","2025-11-17","2025-11-18","2025-11-19","2025-11-20","2025-11-21","2025-11-24","2025-11-25","2025-11-26","2025-11-27","2025-11-28","2025-12-01","2025-12-02","2025-12-03","2025-12-04","2025-12-05","2025-12-08","2025-12-09","2025-12-10","2025-12-11","2025-12-12","2025-12-15","2025-12-16","2025-12-17","2025-12-18","2025-12-19","2025-12-22","2025-12-23","2025-12-24","2025-12-26","2025-12-29","2025-12-30","2025-12-31","2026-01-02","2026-01-05","2026-01-06","2026-01-07","2026-01-08","2026-01-09","2026-01-12","2026-01-13","2026-01-14","2026-01-15","2026-01-16","2026-01-19","2026-01-20","2026-01-21","2026-01-22","2026-01-23","2026-01-26","2026-01-27","2026-01-28","2026-01-29","2026-01-30","2026-02-02","2026-02-03","2026-02-04","2026-02-05","2026-02-06","2026-02-09","2026-02-10","2026-02-11","2026-02-12","2026-02-13","2026-02-16","2026-02-17","2026-02-18","2026-02-19","2026-02-20","2026-02-23","2026-02-24","2026-02-25","2026-02-26","2026-02-27","2026-03-02","2026-03-03","2026-03-04","2026-03-05","2026-03-06","2026-03-09","2026-03-10","2026-03-11","2026-03-12","2026-03-13","2026-03-16","2026-03-17","2026-03-18","2026-03-19","2026-03-20","2026-03-23","2026-03-24","2026-03-25","2026-03-26","2026-03-27","2026-03-30","2026-03-31","2026-04-01","2026-04-02","2026-04-06","2026-04-07","2026-04-08","2026-04-09","2026-04-10","2026-04-13","2026-04-14","2026-04-15","2026-04-16","2026-04-17","2026-04-20","2026-04-21","2026-04-22","2026-04-23","2026-04-24","2026-04-27","2026-04-28","2026-04-29","2026-04-30","2026-05-01","2026-05-04","2026-05-05","2026-05-06","2026-05-07","2026-05-08","2026-05-11","2026-05-12","2026-05-13","2026-05-14","2026-05-15","2026-05-18","2026-05-19","2026-05-20","2026-05-21","2026-05-22","2026-05-25","2026-05-26","2026-05-27","2026-05-28","2026-05-29","2026-06-01","2026-06-02","2026-06-03","2026-06-04","2026-06-05","2026-06-08","2026-06-09","2026-06-10","2026-06-11","2026-06-12","2026-06-15","2026-06-16","2026-06-17","2026-06-18","2026-06-19","2026-06-22","2026-06-23","2026-06-24","2026-06-25","2026-06-26","2026-06-29","2026-06-30","2026-07-01","2026-07-02","2026-07-03","2026-07-06","2026-07-07","2026-07-08","2026-07-09","2026-07-10","2026-07-13","2026-07-14","2026-07-15","2026-07-16","2026-07-17","2026-07-20","2026-07-21","2026-07-22","2026-07-23","2026-07-24","2026-07-27","2026-07-28","2026-07-29","2026-07-30","2026-07-31","2026-08-03","2026-08-04","2026-08-05","2026-08-06","2026-08-07","2026-08-10","2026-08-11","2026-08-12","2026-08-13","2026-08-14","2026-08-17","2026-08-18","2026-08-19","2026-08-20","2026-08-21","2026-08-24","2026-08-25","2026-08-26","2026-08-27","2026-08-28","2026-08-31","2026-09-01","2026-09-02","2026-09-03","2026-09-04","2026-09-07","2026-09-08","2026-09-09","2026-09-10","2026-09-11","2026-09-14","2026-09-15","2026-09-16","2026-09-17","2026-09-18","2026-09-21","2026-09-22","2026-09-23","2026-09-24"]
          },
          "axis": null
        }
      },
      "layer": [
        {
          "data": {"values": [{}]},
          "mark": {"type": "rule", "color": "#f0f3fa", "strokeWidth": 2, "xOffset": -5.5},
          "encoding": {"x": {"datum": "2025-10-07", "type": "ordinal"}}
        },
        {
          "data": {"values": [{}]},
          "mark": {"type": "rule", "color": "#f0f3fa", "strokeWidth": 2, "x2Offset": 164},
          "encoding": {"y": {"datum": 6290.5, "type": "quantitative"}}
        },
        {
          "data": {"values": [{}]},
          "mark": {"type": "rule", "color": "#e0e3eb", "strokeWidth": 2, "x2Offset": 164},
          "encoding": {"y": {"datum": 3514.6, "type": "quantitative"}}
        },
        {
          "data": {"name": "bars"},
          "transform": [{"window": [{"op": "lag", "field": "c", "as": "pc"}], "sort": [{"field": "d"}]}],
          "mark": {"type": "rule", "strokeWidth": 2},
          "encoding": {
            "y": {
              "field": "l",
              "type": "quantitative",
              "scale": {"type": "log", "domain": [3514.6, 6290.5], "nice": false, "zero": false},
              "axis": {
                "orient": "right",
                "title": null,
                "values": [6200, 6000, 5800, 5600, 5400, 5200, 5000, 4800, 4380, 4260, 4140, 4040, 3940, 3840, 3740, 3650, 3570],
                "format": ",.2f",
                "labelAlign": "left",
                "labelBaseline": "middle",
                "labelPadding": 17,
                "labelOverlap": false
              }
            },
            "y2": {"field": "h"},
            "color": {"condition": {"test": "datum.pc == null || datum.c >= datum.pc", "value": "#2962ff"}, "value": "#f23645"}
          }
        },
        {
          "data": {"name": "bars"},
          "transform": [{"window": [{"op": "lag", "field": "c", "as": "pc"}], "sort": [{"field": "d"}]}],
          "mark": {"type": "bar", "width": {"band": 0.72}, "strokeWidth": 1.5},
          "encoding": {
            "y": {"field": "o", "type": "quantitative"},
            "y2": {"field": "c"},
            "fill": {
              "condition": [
                {"test": "datum.c > datum.o", "value": "#ffffff"},
                {"test": "datum.pc == null || datum.c >= datum.pc", "value": "#7a9cff"}
              ],
              "value": "#f4707b"
            },
            "stroke": {"condition": {"test": "datum.pc == null || datum.c >= datum.pc", "value": "#7a9cff"}, "value": "#f4707b"}
          }
        },
        {
          "data": {"name": "sma"},
          "mark": {"type": "line", "strokeWidth": 2, "clip": true, "interpolate": "monotone"},
          "encoding": {
            "y": {"field": "val", "type": "quantitative"},
            "color": {"field": "n", "type": "nominal", "scale": {"domain": ["20", "50", "200"], "range": ["#000000", "#089981", "#f23645"]}, "legend": null}
          }
        },
        {
          "data": {"name": "levels"},
          "mark": {"type": "rule", "strokeWidth": 1.2, "color": "#000000", "x2Offset": 6},
          "encoding": {
            "x2": {"datum": "2026-09-24"},
            "y": {"field": "price", "type": "quantitative"}
          }
        },
        {
          "data": {"values": [{}]},
          "mark": {"type": "text", "text": "XAUUSD · Gold Spot / U.S. Dollar · 1D · Capital.com", "align": "left", "baseline": "alphabetic", "font": "Roboto", "fontSize": 20, "color": "#131722", "dx": -1},
          "encoding": {"x": {"datum": "2025-10-08", "type": "ordinal"}, "y": {"datum": 6201, "type": "quantitative"}}
        },
        {
          "data": {"values": [{}]},
          "mark": {"type": "point", "shape": "M-1,0.55L-0.02,-0.55L1,0.55Z", "size": 26569, "filled": true, "color": "#000000", "opacity": 1, "xOffset": -3},
          "encoding": {"x": {"datum": "2025-10-20", "type": "ordinal"}, "y": {"datum": 5991, "type": "quantitative"}}
        },
        {
          "data": {"values": [{}]},
          "mark": {"type": "point", "shape": "M-0.06,-0.36L0.06,-0.26L-0.46,0.55L-0.66,0.55Z", "size": 26569, "filled": true, "color": "#ffffff", "opacity": 1, "xOffset": -3},
          "encoding": {"x": {"datum": "2025-10-20", "type": "ordinal"}, "y": {"datum": 5991, "type": "quantitative"}}
        },
        {
          "data": {"values": [{}]},
          "mark": {"type": "text", "text": "TheChartEdge", "align": "left", "baseline": "alphabetic", "font": "Inter", "fontSize": 72, "fontWeight": 800, "color": "#000000", "dx": 4},
          "encoding": {"x": {"datum": "2025-10-29", "type": "ordinal"}, "y": {"datum": 5937, "type": "quantitative"}}
        },
        {
          "data": {"values": [{}]},
          "mark": {"type": "text", "text": "XAUUSD, 1D", "align": "center", "baseline": "alphabetic", "font": "Open Sans", "fontSize": 64, "color": "#4a4a4a", "dx": 4},
          "encoding": {"x": {"datum": "2026-04-01", "type": "ordinal"}, "y": {"datum": 6049, "type": "quantitative"}}
        },
        {
          "data": {"values": [{}]},
          "mark": {"type": "text", "text": "Gold", "align": "center", "baseline": "alphabetic", "font": "Open Sans", "fontSize": 64, "color": "#4a4a4a", "dx": 8},
          "encoding": {"x": {"datum": "2026-04-01", "type": "ordinal"}, "y": {"datum": 5779, "type": "quantitative"}}
        },
        {
          "data": {"values": [{}]},
          "mark": {"type": "text", "text": "Daily SMA", "align": "left", "baseline": "alphabetic", "font": "Inter", "fontSize": 37, "fontWeight": 500, "color": "#131722", "dx": 3},
          "encoding": {"x": {"datum": "2026-07-23", "type": "ordinal"}, "y": {"datum": 3574.8, "type": "quantitative"}}
        },
        {
          "data": {"values": [{}]},
          "mark": {"type": "text", "text": "20", "align": "left", "baseline": "alphabetic", "font": "Inter", "fontSize": 37, "fontWeight": 500, "color": "#131722", "dx": 207},
          "encoding": {"x": {"datum": "2026-07-23", "type": "ordinal"}, "y": {"datum": 3574.8, "type": "quantitative"}}
        },
        {
          "data": {"values": [{}]},
          "mark": {"type": "text", "text": "·", "align": "center", "baseline": "alphabetic", "font": "Inter", "fontSize": 37, "fontWeight": 700, "color": "#787b86", "dx": 276},
          "encoding": {"x": {"datum": "2026-07-23", "type": "ordinal"}, "y": {"datum": 3574.8, "type": "quantitative"}}
        },
        {
          "data": {"values": [{}]},
          "mark": {"type": "text", "text": "50", "align": "left", "baseline": "alphabetic", "font": "Inter", "fontSize": 37, "fontWeight": 500, "color": "#089981", "dx": 301},
          "encoding": {"x": {"datum": "2026-07-23", "type": "ordinal"}, "y": {"datum": 3574.8, "type": "quantitative"}}
        },
        {
          "data": {"values": [{}]},
          "mark": {"type": "text", "text": "·", "align": "center", "baseline": "alphabetic", "font": "Inter", "fontSize": 37, "fontWeight": 700, "color": "#787b86", "dx": 372},
          "encoding": {"x": {"datum": "2026-07-23", "type": "ordinal"}, "y": {"datum": 3574.8, "type": "quantitative"}}
        },
        {
          "data": {"values": [{}]},
          "mark": {"type": "text", "text": "200", "align": "left", "baseline": "alphabetic", "font": "Inter", "fontSize": 37, "fontWeight": 500, "color": "#f23645", "dx": 397},
          "encoding": {"x": {"datum": "2026-07-23", "type": "ordinal"}, "y": {"datum": 3574.8, "type": "quantitative"}}
        },
        {
          "data": {"name": "tags"},
          "transform": [{"filter": "datum.kind != 'sma200' && datum.kind != 'last'"}],
          "mark": {"type": "rect", "width": 113, "height": 31, "xOffset": 57.5, "cornerRadius": 2},
          "encoding": {
            "x": {"value": "width"},
            "y": {"field": "price", "type": "quantitative"},
            "fill": {"field": "kind", "type": "nominal", "scale": {"domain": ["level", "sma20", "sma50", "sma200", "last"], "range": ["#000000", "#000000", "#089981", "#f23645", "#2962ff"]}, "legend": null}
          }
        },
        {
          "data": {"name": "tags"},
          "transform": [{"filter": "datum.kind == 'sma200'"}],
          "mark": {"type": "rect", "width": 113, "height": 31, "xOffset": 57.5, "yOffset": 27, "cornerRadius": 2},
          "encoding": {
            "x": {"value": "width"},
            "y": {"field": "price", "type": "quantitative"},
            "fill": {"field": "kind", "type": "nominal", "legend": null}
          }
        },
        {
          "data": {"name": "tags"},
          "transform": [{"filter": "datum.kind == 'last'"}],
          "mark": {"type": "rect", "width": 113, "height": 58, "xOffset": 57.5, "yOffset": 13, "cornerRadius": 2},
          "encoding": {
            "x": {"value": "width"},
            "y": {"field": "price", "type": "quantitative"},
            "fill": {"field": "kind", "type": "nominal", "legend": null}
          }
        },
        {
          "data": {"name": "tags"},
          "transform": [{"filter": "datum.kind == 'last'"}],
          "mark": {"type": "rect", "width": 96, "height": 33, "xOffset": -48, "cornerRadius": 2},
          "encoding": {
            "x": {"value": "width"},
            "y": {"field": "price", "type": "quantitative"},
            "fill": {"field": "kind", "type": "nominal", "legend": null}
          }
        },
        {
          "data": {"name": "tags"},
          "transform": [{"filter": "datum.kind != 'sma200'"}],
          "mark": {"type": "text", "align": "left", "baseline": "middle", "dx": 17, "font": "DejaVu Sans", "fontSize": 19, "color": "#ffffff"},
          "encoding": {
            "x": {"value": "width"},
            "y": {"field": "price", "type": "quantitative"},
            "text": {"field": "price", "type": "quantitative", "format": ",.2f"}
          }
        },
        {
          "data": {"name": "tags"},
          "transform": [{"filter": "datum.kind == 'sma200'"}],
          "mark": {"type": "text", "align": "left", "baseline": "middle", "dx": 17, "dy": 27, "font": "DejaVu Sans", "fontSize": 19, "color": "#ffffff"},
          "encoding": {
            "x": {"value": "width"},
            "y": {"field": "price", "type": "quantitative"},
            "text": {"field": "price", "type": "quantitative", "format": ",.2f"}
          }
        },
        {
          "data": {"name": "tags"},
          "transform": [{"filter": "datum.kind == 'last'"}],
          "mark": {"type": "text", "align": "left", "baseline": "middle", "dx": 17, "dy": 26, "font": "DejaVu Sans", "fontSize": 19, "color": "#bccbff"},
          "encoding": {
            "x": {"value": "width"},
            "y": {"field": "price", "type": "quantitative"},
            "text": {"field": "timer", "type": "nominal"}
          }
        },
        {
          "data": {"name": "tags"},
          "transform": [{"filter": "datum.kind == 'last'"}],
          "mark": {"type": "text", "align": "center", "baseline": "middle", "dx": -48, "font": "DejaVu Sans", "fontSize": 19, "color": "#ffffff"},
          "encoding": {
            "x": {"value": "width"},
            "y": {"field": "price", "type": "quantitative"},
            "text": {"field": "sym", "type": "nominal"}
          }
        }
      ]
    },
    {
      "width": 2779,
      "height": 319,
      "view": {"stroke": null},
      "encoding": {
        "x": {
          "field": "d",
          "type": "ordinal",
          "scale": {
            "type": "band",
            "paddingInner": 0,
            "paddingOuter": 0,
            "domain": ["2025-10-07","2025-10-08","2025-10-09","2025-10-10","2025-10-13","2025-10-14","2025-10-15","2025-10-16","2025-10-17","2025-10-20","2025-10-21","2025-10-22","2025-10-23","2025-10-24","2025-10-27","2025-10-28","2025-10-29","2025-10-30","2025-10-31","2025-11-03","2025-11-04","2025-11-05","2025-11-06","2025-11-07","2025-11-10","2025-11-11","2025-11-12","2025-11-13","2025-11-14","2025-11-17","2025-11-18","2025-11-19","2025-11-20","2025-11-21","2025-11-24","2025-11-25","2025-11-26","2025-11-27","2025-11-28","2025-12-01","2025-12-02","2025-12-03","2025-12-04","2025-12-05","2025-12-08","2025-12-09","2025-12-10","2025-12-11","2025-12-12","2025-12-15","2025-12-16","2025-12-17","2025-12-18","2025-12-19","2025-12-22","2025-12-23","2025-12-24","2025-12-26","2025-12-29","2025-12-30","2025-12-31","2026-01-02","2026-01-05","2026-01-06","2026-01-07","2026-01-08","2026-01-09","2026-01-12","2026-01-13","2026-01-14","2026-01-15","2026-01-16","2026-01-19","2026-01-20","2026-01-21","2026-01-22","2026-01-23","2026-01-26","2026-01-27","2026-01-28","2026-01-29","2026-01-30","2026-02-02","2026-02-03","2026-02-04","2026-02-05","2026-02-06","2026-02-09","2026-02-10","2026-02-11","2026-02-12","2026-02-13","2026-02-16","2026-02-17","2026-02-18","2026-02-19","2026-02-20","2026-02-23","2026-02-24","2026-02-25","2026-02-26","2026-02-27","2026-03-02","2026-03-03","2026-03-04","2026-03-05","2026-03-06","2026-03-09","2026-03-10","2026-03-11","2026-03-12","2026-03-13","2026-03-16","2026-03-17","2026-03-18","2026-03-19","2026-03-20","2026-03-23","2026-03-24","2026-03-25","2026-03-26","2026-03-27","2026-03-30","2026-03-31","2026-04-01","2026-04-02","2026-04-06","2026-04-07","2026-04-08","2026-04-09","2026-04-10","2026-04-13","2026-04-14","2026-04-15","2026-04-16","2026-04-17","2026-04-20","2026-04-21","2026-04-22","2026-04-23","2026-04-24","2026-04-27","2026-04-28","2026-04-29","2026-04-30","2026-05-01","2026-05-04","2026-05-05","2026-05-06","2026-05-07","2026-05-08","2026-05-11","2026-05-12","2026-05-13","2026-05-14","2026-05-15","2026-05-18","2026-05-19","2026-05-20","2026-05-21","2026-05-22","2026-05-25","2026-05-26","2026-05-27","2026-05-28","2026-05-29","2026-06-01","2026-06-02","2026-06-03","2026-06-04","2026-06-05","2026-06-08","2026-06-09","2026-06-10","2026-06-11","2026-06-12","2026-06-15","2026-06-16","2026-06-17","2026-06-18","2026-06-19","2026-06-22","2026-06-23","2026-06-24","2026-06-25","2026-06-26","2026-06-29","2026-06-30","2026-07-01","2026-07-02","2026-07-03","2026-07-06","2026-07-07","2026-07-08","2026-07-09","2026-07-10","2026-07-13","2026-07-14","2026-07-15","2026-07-16","2026-07-17","2026-07-20","2026-07-21","2026-07-22","2026-07-23","2026-07-24","2026-07-27","2026-07-28","2026-07-29","2026-07-30","2026-07-31","2026-08-03","2026-08-04","2026-08-05","2026-08-06","2026-08-07","2026-08-10","2026-08-11","2026-08-12","2026-08-13","2026-08-14","2026-08-17","2026-08-18","2026-08-19","2026-08-20","2026-08-21","2026-08-24","2026-08-25","2026-08-26","2026-08-27","2026-08-28","2026-08-31","2026-09-01","2026-09-02","2026-09-03","2026-09-04","2026-09-07","2026-09-08","2026-09-09","2026-09-10","2026-09-11","2026-09-14","2026-09-15","2026-09-16","2026-09-17","2026-09-18","2026-09-21","2026-09-22","2026-09-23","2026-09-24"]
          },
          "axis": {
            "orient": "bottom",
            "values": ["2025-11-03", "2025-12-01", "2026-01-02", "2026-02-02", "2026-03-02", "2026-04-01", "2026-05-01", "2026-06-01", "2026-07-01", "2026-08-03", "2026-09-01"],
            "labelExpr": "datum.value == '2026-01-02' ? '2026' : utcFormat(toDate(datum.value), '%b')",
            "labelFontWeight": {"condition": {"test": "datum.value == '2026-01-02'", "value": "bold"}, "value": "normal"},
            "labelAngle": 0,
            "labelPadding": 9,
            "labelOverlap": false,
            "title": "TradingView",
            "titleAnchor": "start",
            "titleAlign": "left",
            "titleBaseline": "alphabetic",
            "titleX": 70,
            "titleY": 113,
            "titleFont": "Inter",
            "titleFontSize": 38,
            "titleFontWeight": "bold",
            "titleColor": "#131722"
          }
        }
      },
      "layer": [
        {
          "data": {"values": [{}]},
          "mark": {"type": "rule", "color": "#f0f3fa", "strokeWidth": 2, "xOffset": -5.5, "y2Offset": 43},
          "encoding": {"x": {"datum": "2025-10-07", "type": "ordinal"}}
        },
        {
          "data": {"values": [{}]},
          "mark": {"type": "rule", "color": "#f0f3fa", "strokeWidth": 2, "x2Offset": 164},
          "encoding": {"y": {"datum": -422000, "type": "quantitative"}}
        },
        {
          "data": {"name": "bars"},
          "mark": {"type": "bar", "width": {"band": 0.9}},
          "encoding": {
            "y": {
              "field": "v",
              "type": "quantitative",
              "scale": {"domain": [-184000, 1577000], "nice": false, "zero": false},
              "axis": {
                "orient": "right",
                "title": null,
                "values": [0, 800000, 1200000],
                "format": ",.2f",
                "labelAlign": "left",
                "labelBaseline": "middle",
                "labelPadding": 17,
                "labelOverlap": false
              }
            },
            "y2": {"datum": 0},
            "color": {"condition": {"test": "datum.c >= datum.o", "value": "#7b9bf8"}, "value": "#f38b95"}
          }
        },
        {
          "data": {"name": "vma"},
          "mark": {"type": "line", "strokeWidth": 2, "color": "#3d3d3d", "opacity": 0.85, "interpolate": "monotone"},
          "encoding": {"y": {"field": "val", "type": "quantitative"}}
        },
        {
          "data": {"name": "vtags"},
          "mark": {"type": "rect", "width": 137, "height": 33, "xOffset": 69.5, "cornerRadius": 2},
          "encoding": {
            "x": {"value": "width"},
            "y": {"field": "v", "type": "quantitative"},
            "fill": {"field": "kind", "type": "nominal", "scale": {"domain": ["sma", "last"], "range": ["#000000", "#2962ff"]}, "legend": null}
          }
        },
        {
          "data": {"name": "vtags"},
          "mark": {"type": "text", "align": "left", "baseline": "middle", "dx": 19, "font": "DejaVu Sans", "fontSize": 19, "color": "#ffffff"},
          "encoding": {
            "x": {"value": "width"},
            "y": {"field": "v", "type": "quantitative"},
            "text": {"field": "v", "type": "quantitative", "format": ",.2f"}
          }
        },
        {
          "data": {"values": [{}]},
          "mark": {"type": "point", "shape": "M-1,-0.54L-0.18,-0.54L-0.18,0.54L-0.61,0.54L-0.61,-0.25L-1,-0.25Z M-0.18,-0.36A0.16,0.16 0 1,0 0.14,-0.36A0.16,0.16 0 1,0 -0.18,-0.36Z M0.21,-0.54L1,-0.54L0.43,0.54L-0.04,0.54Z", "size": 3136, "filled": true, "color": "#131722", "opacity": 1, "xOffset": 4},
          "encoding": {"x": {"datum": "2025-10-09", "type": "ordinal"}, "y": {"datum": -726000, "type": "quantitative"}}
        }
      ]
    }
  ],
  "config": {
    "view": {"stroke": null},
    "axis": {
      "labelFont": "DejaVu Sans",
      "labelFontSize": 19,
      "labelColor": "#131722",
      "ticks": false,
      "domain": false,
      "grid": false
    }
  }
}
